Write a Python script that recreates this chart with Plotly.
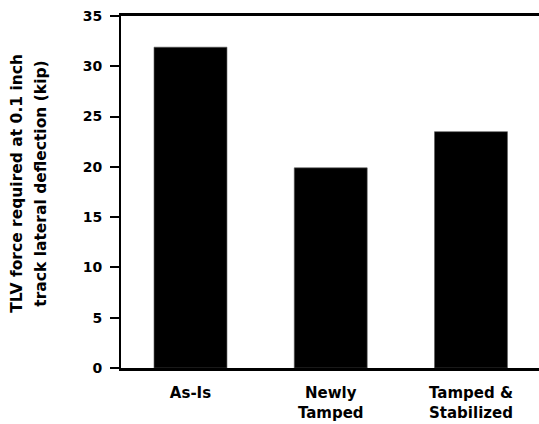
import plotly.graph_objects as go

categories = ["As-Is", "Newly<br>Tamped", "Tamped &<br>Stabilized"]
values = [31.9, 19.9, 23.5]
y_ticks = [0, 5, 10, 15, 20, 25, 30, 35]
title_lines = ["TLV force required at 0.1 inch", "track lateral deflection (kip)"]

W, H = 539, 424
L, R, T, B = 121, 0, 16, 55.5
pw = W - L - R
ph = H - T - B

FONT = "DejaVu Sans"

fig = go.Figure()
fig.add_trace(go.Bar(
    x=list(range(len(categories))),
    y=values,
    width=0.52,
    marker=dict(color="black", line=dict(color="#555555", width=0.6)),
))

fig.update_layout(
    width=W, height=H,
    margin=dict(l=L, r=R, t=T, b=B, pad=0),
    paper_bgcolor="white", plot_bgcolor="white",
    showlegend=False,
    font=dict(family=FONT, color="black", weight="bold"),
)

fig.update_xaxes(
    range=[-0.4955, 2.485],
    tickmode="array",
    tickvals=list(range(len(categories))),
    ticktext=categories,
    tickfont=dict(family=FONT, size=15, color="black", weight="bold"),
    ticks="",
    ticklabelstandoff=9,
    showgrid=False, zeroline=False,
    showline=True, linecolor="black", linewidth=3, mirror=True,
)

fig.update_yaxes(
    range=[0, 35],
    tickmode="array",
    tickvals=y_ticks,
    ticktext=[str(v) for v in y_ticks],
    tickfont=dict(family=FONT, size=14, color="black", weight="bold"),
    ticks="outside", ticklen=9, tickwidth=2, tickcolor="black",
    ticklabelstandoff=5,
    showgrid=False, zeroline=False,
    showline=True, linecolor="black", linewidth=2, mirror=False,
)

title_x_px = [17, 41]
title_y_px = 184
for line, xp in zip(title_lines, title_x_px):
    fig.add_annotation(
        text=line,
        xref="paper", yref="paper",
        x=(xp - L) / pw, y=(H - B - title_y_px) / ph,
        xanchor="center", yanchor="middle",
        textangle=-90, showarrow=False,
        font=dict(family=FONT, size=15.5, color="black", weight="bold"),
    )

fig.write_html("out.html")
